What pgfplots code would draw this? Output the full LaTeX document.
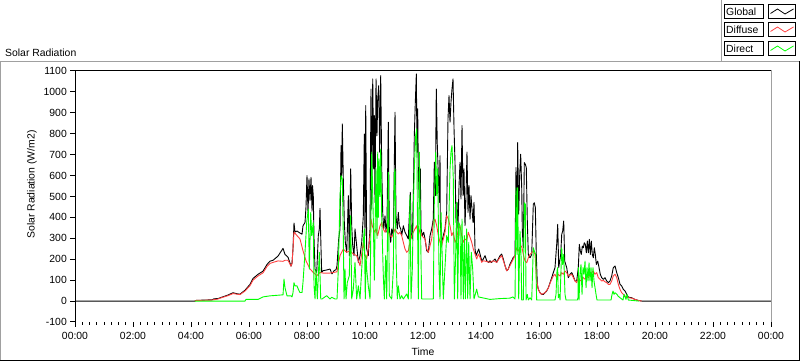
\documentclass[border=0pt]{standalone}
\usepackage{fontspec}
\setmainfont{Liberation Sans}
\usepackage{pgfplots}
\pgfplotsset{compat=1.18}
\definecolor{diffuse}{RGB}{255,64,64}
\definecolor{direct}{RGB}{0,255,0}
\definecolor{framegrey}{RGB}{160,160,160}
\begin{document}
\fontsize{10.4}{12}\selectfont
\begin{tikzpicture}[x=1pt,y=1pt]
\useasboundingbox (0,0) rectangle (800,361);
% outer panel frame
\draw[framegrey, line width=1pt] (0.5,0) -- (0.5,299.5) -- (800,299.5);
\draw[framegrey, line width=1pt] (721.5,299.5) -- (721.5,361);
\draw[black, line width=1pt] (0,0.5) -- (800,0.5);
\draw[black, line width=1pt] (799.5,0) -- (799.5,299.5);
\begin{axis}[
  at={(75pt,39pt)}, anchor=south west,
  width=696pt, height=251pt, scale only axis,
  xmin=0, xmax=1440, ymin=-100, ymax=1100,
  xtick={0,120,240,360,480,600,720,840,960,1080,1200,1320,1440},
  xticklabels={00:00,02:00,04:00,06:00,08:00,10:00,12:00,14:00,16:00,18:00,20:00,22:00,00:00},
  minor x tick num=7,
  ytick={-100,0,100,200,300,400,500,600,700,800,900,1000,1100},
  tick pos=left, tick align=outside,
  major tick length=5pt, minor tick length=3pt,
  tick style={black, line width=1pt},
  axis line style={draw=none},
  /pgf/number format/assume math mode=true,
  /pgf/number format/1000 sep={},
  ticklabel style={font=\fontsize{10.4}{12}\selectfont, inner sep=0pt},
  xticklabel style={anchor=base, yshift=-13pt},
  yticklabel style={anchor=east, xshift=-3pt},
  every axis plot/.append style={no marks, line width=0.9pt, line join=round},
]
\addplot[black] coordinates {
(0,0) (248,0) (250.3,3) (269.0,5) (283.5,6) (287.6,11) (295.9,12) (304.1,19) (316.6,29) (326.9,40) (335.2,35) (341.4,33) (351.7,52) (362.1,80) (368.3,108) (378.6,128) (389.0,143) (397.2,175) (403.5,191) (409.7,195) (420.0,215) (430.4,252) (434.5,223) (440.7,210) (446.9,167) (449.0,182) (451.0,249) (453.1,373) (455.2,330) (459.3,335) (465.5,325) (469.7,320) (471.7,360) (475.9,376) (477.9,450) (480.0,600) (482.1,420) (484.1,584) (486.2,480) (488.3,592) (490.4,430) (491.4,552) (493.0,504) (494.5,300) (496.6,153) (500.1,137) (503.4,313) (505.5,345) (506.9,443) (509.0,250) (510.4,137) (513.1,145) (519.3,148) (527.6,153) (531.7,130) (535.9,145) (540.0,150) (542.1,170) (545.6,297) (548.3,345) (550.4,743) (551.8,600) (553.0,847) (555.1,584) (557.2,376) (559.3,281) (562.2,233) (565.5,504) (567.5,217) (570.4,632) (572.5,360) (574.6,265) (577.3,217) (579.3,345) (582.8,265) (586.2,185) (589.7,217) (593.2,281) (596.5,408) (598.6,799) (600.0,313) (601.5,935) (603.5,249) (606.8,217) (610.4,345) (612.4,1014) (613.9,440) (616.0,1062) (618.0,632) (619.3,887) (620.7,472) (622.8,1062) (624.8,791) (626.3,967) (628.4,1030) (630.4,712) (632.5,1078) (634.6,632) (636.6,424) (638.7,345) (641.4,408) (643.5,329) (645.5,376) (648.2,855) (650.3,345) (653.2,281) (655.3,345) (658.6,313) (662.1,903) (664.1,408) (666.8,345) (668.9,424) (671.0,360) (673.9,345) (675.9,313) (679.3,360) (682.8,329) (686.3,313) (689.6,297) (693.7,520) (695.8,313) (697.9,297) (700.0,504) (702.0,791) (704.1,951) (706.2,1086) (707.6,712) (709.0,919) (710.3,632) (712.4,472) (714.4,632) (715.9,345) (718.6,313) (721.5,329) (724.2,297) (727.7,241) (731.0,233) (734.5,313) (738.0,345) (741.3,392) (743.4,664) (745.5,504) (747.5,1014) (749.6,743) (751.7,600) (753.7,472) (755.2,695) (755.8,376) (758.7,281) (762.0,313) (765.5,345) (769.0,424) (771.7,871) (773.8,982) (775.9,855) (777.9,951) (780.0,1014) (782.1,1062) (784.2,823) (786.2,664) (788.3,376) (790.4,472) (792.4,345) (794.5,552) (796.6,664) (798.6,488) (800.7,839) (802.8,504) (804.8,632) (806.9,360) (809.0,504) (811.0,712) (813.1,424) (815.2,552) (817.3,392) (819.3,504) (821.4,440) (823.5,376) (825.5,472) (827.6,249) (829.7,217) (832.4,233) (835.3,249) (837.9,225) (841.5,193) (844.8,201) (848.3,217) (851.8,193) (855.1,185) (858.6,193) (862.1,185) (865.5,193) (869.0,201) (872.5,185) (875.8,201) (879.3,217) (882.8,225) (886.2,201) (889.7,169) (893.2,145) (896.5,153) (900.0,177) (903.5,193) (906.8,209) (910.4,217) (912.4,638) (914.5,319) (915.9,758) (918.0,415) (920.1,606) (922.1,702) (924.2,542) (925.5,335) (927.5,255) (929.6,662) (931.7,654) (933.7,638) (935.8,383) (937.9,223) (941.4,207) (944.9,223) (948.2,463) (950.3,470) (952.4,447) (954.4,223) (956.5,80) (958.6,56) (962.1,40) (965.6,32) (968.9,32) (972.4,40) (975.9,48) (979.3,64) (982.8,88) (986.3,112) (989.6,136) (993.1,160) (996.6,271) (998.7,367) (1000.8,160) (1002.8,191) (1004.9,223) (1007.0,319) (1009.0,335) (1011.1,383) (1013.2,191) (1015.3,175) (1017.3,160) (1020.6,112) (1024.2,128) (1027.7,136) (1031.0,120) (1034.5,96) (1038.0,96) (1041.3,160) (1043.4,271) (1045.5,239) (1047.5,223) (1049.6,263) (1051.7,255) (1053.7,279) (1055.8,271) (1057.9,231) (1060.0,287) (1062.0,231) (1064.1,295) (1066.2,223) (1068.2,287) (1070.3,223) (1072.4,207) (1074.4,255) (1076.5,223) (1078.6,175) (1081.5,191) (1084.2,160) (1086.8,128) (1089.7,112) (1093.1,104) (1096.6,112) (1100.1,96) (1103.4,88) (1106.9,96) (1110.4,120) (1113.7,160) (1117.3,168) (1120.8,136) (1124.1,112) (1127.6,80) (1131.1,72) (1134.4,56) (1138.0,48) (1141.5,32) (1144.8,19) (1151.8,16) (1158.6,8) (1165.5,3) (1172.5,0) (1440,0)
};
\addplot[diffuse] coordinates {
(248,0) (250.3,3) (283.5,5) (295.9,10) (304.1,17) (316.6,26) (326.9,36) (335.2,33) (341.4,31) (351.7,48) (362.1,74) (368.3,100) (378.6,120) (389.0,135) (397.2,165) (403.5,180) (409.7,185) (420.0,192) (430.4,190) (434.5,195) (440.7,195) (446.9,167) (449.0,180) (451.0,250) (453.1,330) (459.3,313) (465.5,297) (471.7,241) (477.9,193) (486.2,153) (493.0,137) (500.1,121) (506.9,137) (513.1,134) (527.6,134) (542.1,140) (545.6,185) (548.3,217) (555.1,249) (562.2,233) (569.0,241) (575.8,225) (582.8,217) (589.7,169) (596.5,281) (600.0,217) (603.5,201) (606.8,249) (610.4,313) (612.4,392) (615.1,360) (619.3,329) (622.8,345) (626.3,313) (631.0,360) (634.6,376) (637.9,345) (641.4,329) (644.9,345) (648.2,329) (651.7,313) (655.3,305) (658.6,321) (662.1,345) (665.6,329) (668.9,321) (672.4,329) (675.9,313) (679.3,281) (682.8,249) (686.3,233) (689.6,241) (693.1,281) (696.6,313) (700.0,329) (703.5,345) (707.0,360) (710.3,313) (713.8,345) (717.3,313) (724.2,297) (727.7,249) (731.0,233) (734.5,265) (738.0,297) (741.3,376) (744.8,392) (748.4,360) (751.7,313) (755.2,281) (758.7,265) (762.0,297) (765.5,329) (769.0,408) (772.4,392) (775.9,360) (779.4,313) (782.7,329) (786.2,281) (789.7,297) (793.0,345) (796.6,360) (800.1,313) (803.4,281) (806.9,297) (810.4,289) (813.7,329) (817.3,305) (820.8,281) (824.1,249) (827.6,225) (831.1,201) (834.4,225) (837.9,209) (841.5,185) (844.8,193) (851.8,189) (858.6,185) (865.5,193) (872.5,185) (879.3,209) (882.8,217) (886.2,193) (893.2,145) (896.5,153) (900.0,169) (906.8,201) (910.4,217) (913.9,255) (917.2,239) (920.7,255) (924.2,263) (927.5,223) (931.1,191) (934.6,183) (937.9,207) (941.4,223) (944.9,231) (948.2,239) (951.7,223) (955.1,96) (958.6,56) (962.1,40) (965.6,32) (972.4,40) (979.3,62) (982.8,85) (986.3,104) (989.6,120) (993.1,128) (996.6,112) (999.9,128) (1003.5,120) (1007.0,136) (1010.3,128) (1013.8,144) (1017.3,136) (1020.6,120) (1027.7,128) (1031.0,112) (1034.5,96) (1038.0,88) (1041.3,112) (1044.8,96) (1048.4,104) (1051.7,112) (1055.2,104) (1058.7,120) (1062.0,112) (1065.5,128) (1069.0,136) (1072.4,144) (1075.9,128) (1079.4,136) (1082.7,112) (1086.2,104) (1089.7,96) (1093.1,99) (1096.6,92) (1100.1,88) (1103.4,80) (1106.9,80) (1110.4,96) (1113.7,120) (1117.3,128) (1120.8,112) (1124.1,80) (1127.6,56) (1131.1,40) (1134.4,32) (1138.0,24) (1144.8,16) (1151.8,14) (1158.6,8) (1165.5,3) (1172.5,0)
};
\addplot[direct] coordinates {
(248,0) (351.7,0) (353.8,8) (378.6,8) (389.0,20) (403.5,25) (420.0,28) (430.4,30) (432.4,105) (434.5,64) (438.6,25) (446.9,25) (449.0,20) (451.0,40) (453.1,88) (455.2,73) (459.3,73) (461.4,60) (465.5,41) (469.7,41) (471.7,89) (475.9,233) (479.4,376) (482.7,440) (484.8,153) (487.7,424) (489.7,313) (493.0,376) (494.5,73) (496.6,10) (498.6,153) (501.3,10) (503.4,121) (505.5,233) (508.4,10) (511.0,10) (520.8,26) (527.6,10) (531.1,18) (537.9,10) (542.1,10) (544.8,153) (548.3,504) (550.4,600) (553.0,584) (555.1,313) (556.6,10) (558.6,153) (560.7,10) (563.4,89) (567.5,121) (570.4,408) (572.5,10) (575.8,57) (579.3,185) (582.8,10) (586.2,73) (589.7,10) (593.2,153) (596.5,281) (598.6,345) (600.6,10) (602.1,220) (603.5,153) (606.8,73) (610.4,10) (613.9,712) (617.2,392) (619.3,100) (622.8,632) (624.8,300) (626.3,712) (627.5,400) (629.0,680) (631.0,500) (632.5,727) (634.6,392) (637.9,121) (640.0,10) (642.8,217) (644.9,10) (648.2,616) (650.3,26) (655.3,10) (658.6,153) (660.6,600) (662.1,632) (664.1,233) (666.8,10) (668.9,73) (672.4,10) (675.9,26) (679.3,10) (686.3,34) (689.6,10) (693.1,504) (695.2,10) (697.9,153) (700.0,440) (702.0,632) (704.9,791) (707.0,823) (708.2,472) (710.3,10) (712.4,712) (714.4,408) (717.3,10) (741.3,10) (743.4,472) (746.3,712) (748.4,504) (750.4,632) (753.1,153) (755.2,10) (757.3,424) (762.0,10) (769.0,313) (772.4,281) (775.9,632) (777.9,712) (780.0,743) (782.7,584) (784.8,10) (787.7,233) (789.7,472) (791.8,10) (793.9,376) (796.6,360) (798.6,10) (800.7,392) (803.4,10) (805.5,313) (807.5,10) (810.4,345) (812.5,10) (814.6,281) (817.3,10) (819.9,233) (822.8,153) (825.5,10) (831.1,57) (834.4,20) (858.6,8) (879.3,12) (900.0,14) (906.2,20) (910.4,10) (912.4,542) (914.5,223) (915.9,542) (918.0,10) (920.7,335) (922.8,223) (924.2,5) (927.5,5) (929.6,470) (931.7,463) (933.2,5) (935.8,32) (937.9,5) (941.4,16) (944.9,5) (948.2,255) (950.3,239) (953.1,223) (955.1,5) (993.1,5) (995.2,32) (997.2,144) (998.7,160) (999.9,16) (1002.0,32) (1003.5,5) (1007.0,255) (1009.0,175) (1011.1,223) (1013.8,32) (1015.9,5) (1039.3,5) (1040.7,16) (1041.3,160) (1042.8,5) (1044.8,128) (1046.9,175) (1049.0,32) (1051.1,160) (1053.1,128) (1055.2,191) (1057.3,64) (1059.3,160) (1061.4,96) (1063.5,183) (1065.5,96) (1067.6,160) (1069.7,64) (1071.7,160) (1073.8,96) (1075.9,64) (1078.0,32) (1080.0,5) (1109.0,5) (1111.1,32) (1113.1,48) (1115.2,32) (1117.3,40) (1121.4,32) (1123.5,24) (1127.6,16) (1133.8,5) (1135.9,32) (1140.0,8) (1142.1,32) (1144.8,5) (1166.9,0)
};
\end{axis}
% plot area frame
\draw[black, line width=1pt] (75.5,39) -- (75.5,290.5) -- (772,290.5);
\draw[framegrey, line width=1pt] (771.5,290.5) -- (771.5,39);
% titles and labels
\node[anchor=base west, inner sep=0pt] at (5,304) {Solar Radiation};
\node[rotate=90, inner sep=0pt] at (32,176.5) {Solar Radiation (W/m2)};
\node[anchor=base, inner sep=0pt] at (423,5) {Time};
% legend
\foreach \yb/\lab/\col in {342/Global/black, 324/Diffuse/diffuse, 305/Direct/direct}{
  \draw[black, line width=1pt] (724.5,\yb+0.5) rectangle (763.5,\yb+14.5);
  \draw[black, line width=1pt] (768.5,\yb+0.5) rectangle (795.5,\yb+14.5);
  \node[anchor=base west, inner sep=0pt] at (726,\yb+3.2) {\lab};
  \draw[\col, line width=0.8pt, line join=round] (770.5,\yb+5.5) -- (777.5,\yb+10) -- (785,\yb+5) -- (793.5,\yb+10);
}
\end{tikzpicture}
\end{document}
